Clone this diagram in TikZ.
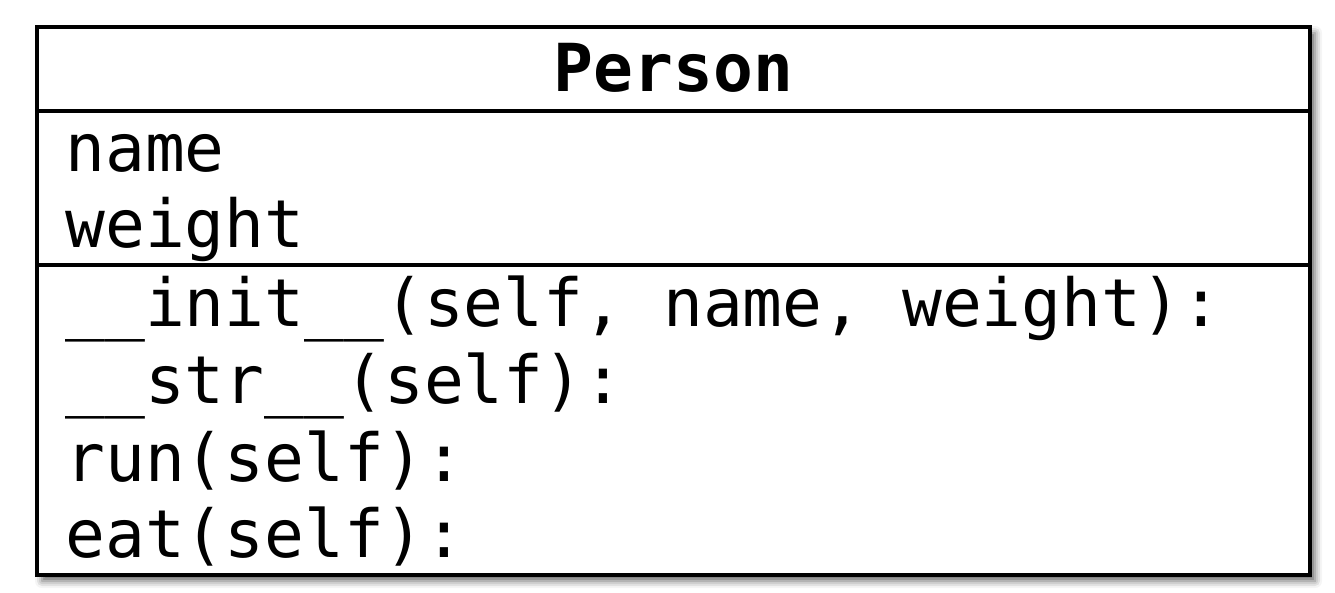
\documentclass[tikz,border=0pt]{standalone}
\usepackage{fontspec}
\newfontfamily\umlmono{DejaVu Sans Mono}
\usetikzlibrary{shadows.blur}
\tikzset{
  classbox/.style={draw=black, line width=2pt, fill=white,
    blur shadow={shadow xshift=2.5pt, shadow yshift=-3pt, shadow blur radius=3.5pt, shadow opacity=60}},
  sepline/.style={draw=black, line width=2pt},
  member/.style={anchor=base west, inner sep=0pt, font=\umlmono\fontsize{33.1}{38}\selectfont},
  title/.style={anchor=base, inner sep=0pt, font=\umlmono\bfseries\fontsize{33.1}{38}\selectfont}
}
\begin{document}
\begin{tikzpicture}[x=0.5pt, y=-0.5pt]
\useasboundingbox (0,0) rectangle (1335,593);
\path[classbox] (37,27) rectangle (1310,575);
\coordinate (s1l) at (37,111); \coordinate (s1r) at (1310,111);
\coordinate (s2l) at (37,265); \coordinate (s2r) at (1310,265);
\draw[sepline] (s1l) -- (s1r);
\draw[sepline] (s2l) -- (s2r);
\node[title] (cls) at (673.5,92) {Person};
\node[member] (a1) at (65,172) {name};
\node[member] (a2) at (65,248) {weight};
\node[member] (m1) at (65,327) {\_\_init\_\_(self, name, weight):};
\node[member] (m2) at (65,404) {\_\_str\_\_(self):};
\node[member] (m3) at (65,481) {run(self):};
\node[member] (m4) at (65,558) {eat(self):};
\end{tikzpicture}
\end{document}
